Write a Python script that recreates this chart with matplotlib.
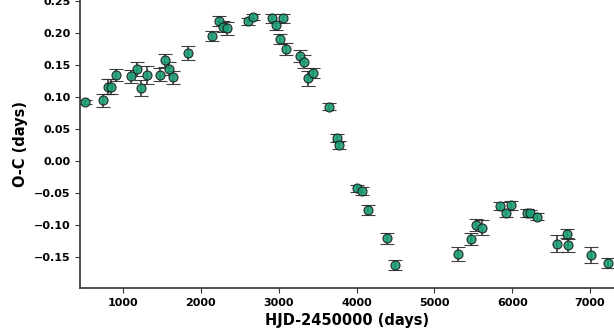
import matplotlib
matplotlib.use("Agg")
import matplotlib.pyplot as plt

# O-C timings
hjd = [512, 739, 803, 846, 910, 1100, 1175, 1236, 1312, 1475, 1535, 1595, 1643, 1840,
       2148, 2234, 2280, 2331, 2610, 2666, 2910, 2970, 3017, 3052, 3094, 3270, 3326,
       3380, 3437, 3651, 3746, 3780, 4003, 4075, 4144, 4393, 4492, 5302, 5476, 5533,
       5614, 5837, 5925, 5987, 6188, 6231, 6317, 6574, 6710, 6714, 7015, 7228]
oc = [0.092, 0.095, 0.116, 0.116, 0.134, 0.132, 0.144, 0.114, 0.135, 0.135, 0.157, 0.144,
      0.131, 0.168, 0.195, 0.219, 0.210, 0.207, 0.218, 0.225, 0.223, 0.212, 0.190, 0.223,
      0.175, 0.164, 0.155, 0.129, 0.138, 0.085, 0.036, 0.025, -0.043, -0.047, -0.077,
      -0.121, -0.162, -0.146, -0.122, -0.100, -0.104, -0.070, -0.082, -0.069, -0.081,
      -0.082, -0.087, -0.129, -0.114, -0.132, -0.147, -0.159]
oc_err = [0.003, 0.010, 0.012, 0.012, 0.009, 0.010, 0.011, 0.012, 0.014, 0.010, 0.010,
          0.010, 0.010, 0.011, 0.008, 0.008, 0.008, 0.010, 0.005, 0.005, 0.007, 0.007,
          0.008, 0.007, 0.010, 0.010, 0.010, 0.012, 0.008, 0.005, 0.006, 0.006, 0.006,
          0.006, 0.008, 0.008, 0.008, 0.011, 0.010, 0.010, 0.011, 0.006, 0.006, 0.007,
          0.006, 0.006, 0.006, 0.014, 0.007, 0.010, 0.012, 0.008]

fig = plt.figure(figsize=(6.14, 3.29), dpi=100)
# the figure is cropped: axes run past the top and right edges
ax = fig.add_axes([80 / 614, 41 / 329, 1 - 80 / 614, 1 - 41 / 329])

ax.errorbar(hjd, oc, yerr=oc_err, fmt='o', color='#1b9e77', markeredgecolor='#1a1a1a',
            markeredgewidth=0.8, markersize=6.5, ecolor='#2b2b2b', elinewidth=1.2,
            capsize=5, capthick=1.2, alpha=0.9)

ax.set_xlim(447, 7308)
ax.set_ylim(-0.1985, 0.2515)
ax.set_xticks([1000, 2000, 3000, 4000, 5000, 6000, 7000])
ax.set_yticks([-0.15, -0.10, -0.05, 0.00, 0.05, 0.10, 0.15, 0.20, 0.25])

for s in ['top', 'right']:
    ax.spines[s].set_visible(False)
for s in ['left', 'bottom']:
    ax.spines[s].set_color('#333333')
    ax.spines[s].set_linewidth(1.2)

ax.tick_params(labelsize=8, length=3.5, color='#333333')
for lab in ax.get_xticklabels() + ax.get_yticklabels():
    lab.set_fontweight('bold')

ax.set_xlabel('HJD-2450000 (days)', fontsize=10.5, fontweight='bold')
ax.set_ylabel('O-C (days)', fontsize=10.5, fontweight='bold')

fig.savefig('out.png', dpi=100)
